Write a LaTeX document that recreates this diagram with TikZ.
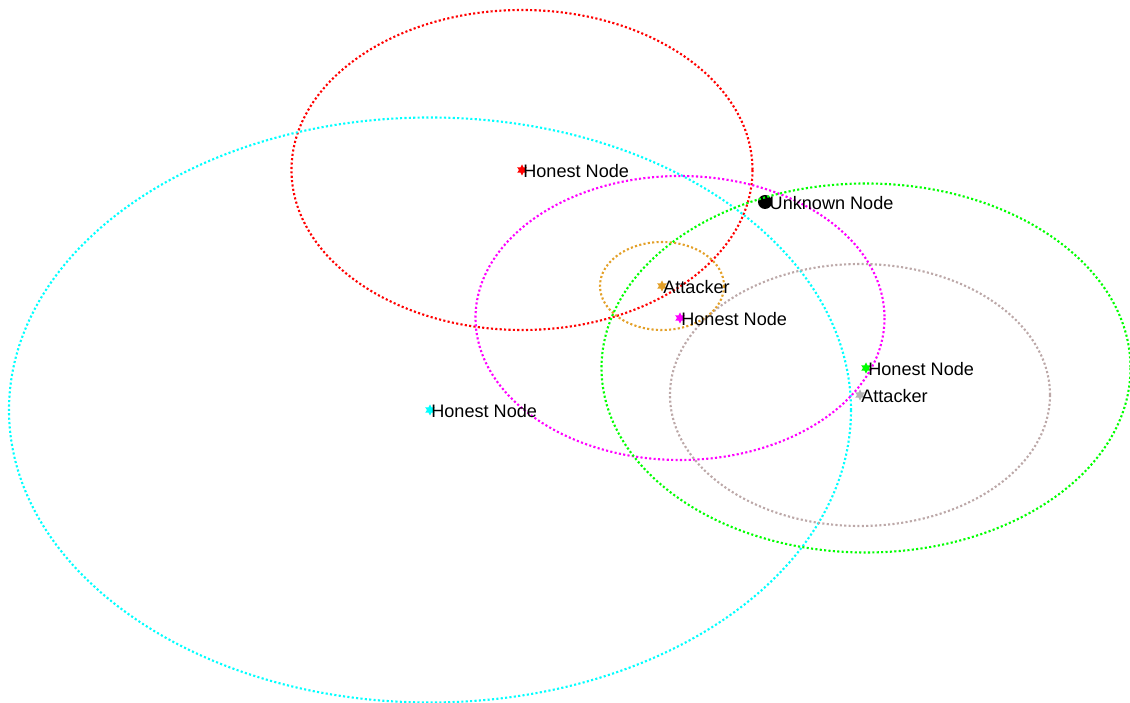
\documentclass[tikz,border=0pt]{standalone}
\usepackage{fontspec}
\setmainfont{Liberation Sans}
\usetikzlibrary{shapes.geometric}
\definecolor{honred}{RGB}{255,0,0}
\definecolor{honcyan}{RGB}{0,255,255}
\definecolor{honmag}{RGB}{255,0,255}
\definecolor{hongreen}{RGB}{0,255,0}
\definecolor{attorange}{HTML}{E3A028}
\definecolor{attgray}{HTML}{B4B4B4}
\definecolor{rnggray}{HTML}{BCA8A8}
\tikzset{%
    rng/.style={line width=1.2pt, dash pattern=on 1.2pt off 1.3pt},
    mrk/.style={star, star points=6, star point ratio=1.8, inner sep=0pt, minimum size=2.2mm},
    lbl/.style={font=\fontsize{10.3}{12}\selectfont, inner sep=0pt, anchor=west},
}
\begin{document}
\begin{tikzpicture}[x=0.2mm,y=-0.2mm]
    \useasboundingbox (0,0) rectangle (1130,703);
    % nodes
    \node [mrk,fill=honred] (hr) at (522,170) {};
    \node [mrk,fill=honcyan] (hc) at (430,410) {};
    \node [mrk,fill=honmag] (hm) at (680,318) {};
    \node [mrk,fill=hongreen] (hg) at (866,368) {};
    \node [mrk,fill=attorange] (ao) at (662,286) {};
    \node [mrk,fill=attgray] (ag) at (860,395) {};
    \node [circle,fill=black,inner sep=0pt,minimum size=2.8mm] (un) at (765,202) {};
    % ranges
    \draw [rng,honred] (hr) ellipse [x radius=230.5, y radius=160];
    \draw [rng,honcyan] (hc) ellipse [x radius=421, y radius=292.5];
    \draw [rng,honmag] (hm) ellipse [x radius=204.5, y radius=142];
    \draw [rng,hongreen] (hg) ellipse [x radius=264.5, y radius=184.5];
    \draw [rng,rnggray] (ag) ellipse [x radius=190, y radius=131];
    \draw [rng,attorange] (ao) ellipse [x radius=62, y radius=44];
    % labels
    \node [lbl] at ([xshift=0.2mm,yshift=-0.2mm]hr.center) {Honest Node};
    \node [lbl] at ([xshift=0.2mm,yshift=-0.2mm]hc.center) {Honest Node};
    \node [lbl] at ([xshift=0.2mm,yshift=-0.2mm]hm.center) {Honest Node};
    \node [lbl] at ([xshift=0.4mm,yshift=-0.2mm]hg.center) {Honest Node};
    \node [lbl] at ([xshift=0.2mm,yshift=-0.2mm]ao.center) {Attacker};
    \node [lbl] at ([xshift=0.2mm,yshift=-0.2mm]ag.center) {Attacker};
    \node [lbl] at ([xshift=-0.6mm,yshift=-0.2mm]un.east) {Unknown Node};
\end{tikzpicture}
\end{document}
